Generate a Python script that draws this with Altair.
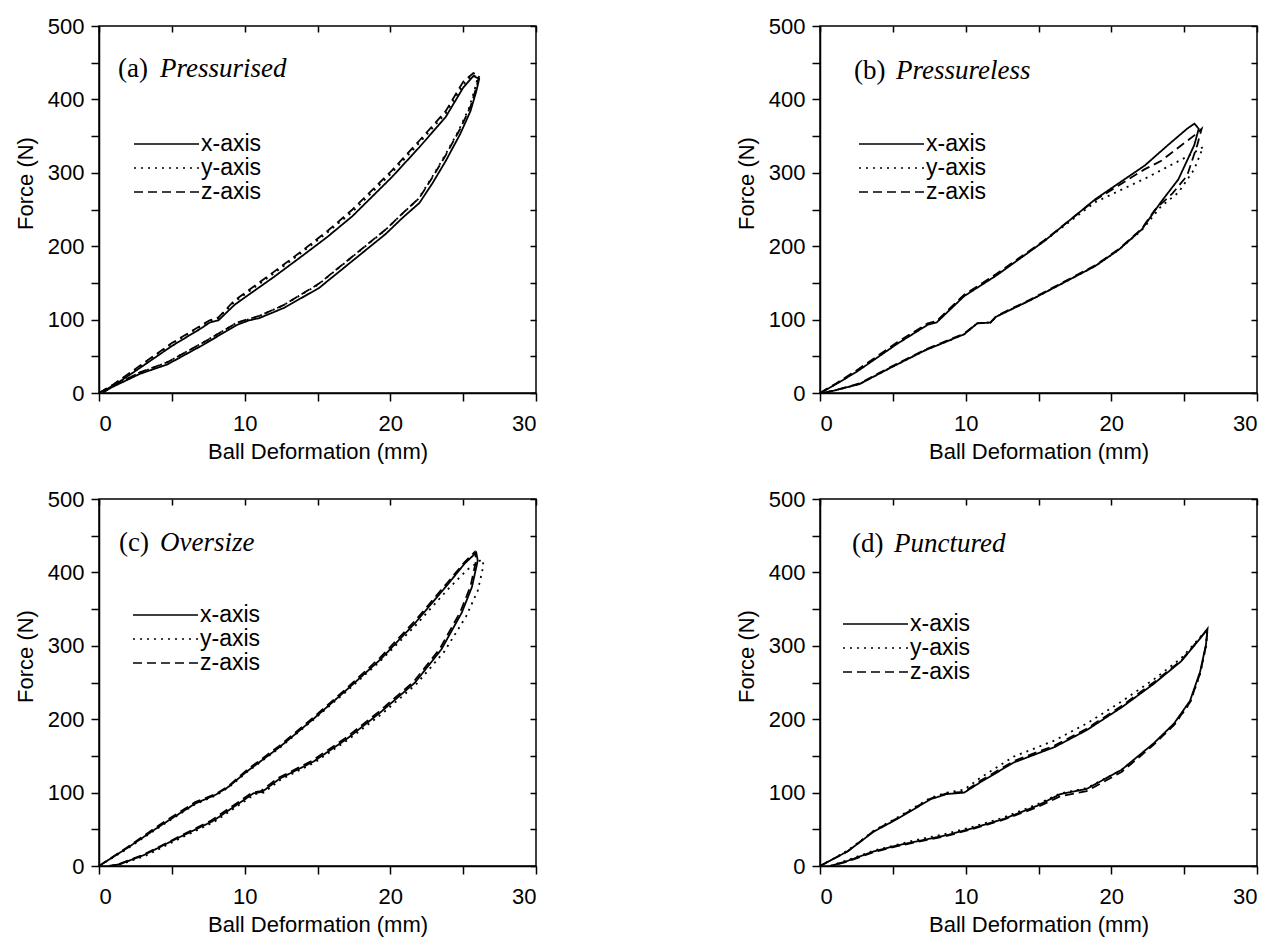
import altair as alt
import pandas as pd

# ---------------- data ----------------
PANELS = ["a", "b", "c", "d"]
PANEL_TAGS = ["(a)", "(b)", "(c)", "(d)"]
PANEL_NAMES = ["Pressurised", "Pressureless", "Oversize", "Punctured"]
SERIES = ["x-axis", "y-axis", "z-axis"]

X_TICKS = [0, 5, 10, 15, 20, 25, 30]
Y_TICKS = [0, 50, 100, 150, 200, 250, 300, 350, 400, 450, 500]

# (a) Pressurised
A_X_DEF = [0, 1, 2.8, 5, 7, 7.6, 8.2, 9.3, 10, 12, 13.9, 15.7, 17.4, 20.1, 22, 23.8, 25, 25.7, 26.1, 25.9, 25.5, 24.8, 23.8, 22.9, 22, 20.8, 19.7, 17.4, 15.1, 12.7, 11, 10.3, 9.5, 7, 4.7, 2.8, 0.8, 0.3]
A_X_F = [0, 10, 34, 64, 88, 96, 99, 120, 130, 158, 186, 213, 241, 294, 335, 376, 416, 432, 428, 411, 384, 353, 316, 286, 259, 238, 217, 180, 143, 116, 102, 99, 93, 64, 39, 26, 7, 1]
A_Y_DEF = [0, 1, 2.8, 5, 7, 7.6, 8.2, 9.3, 10, 12, 13.9, 15.7, 17.4, 20.1, 22, 23.8, 25, 25.6, 26.0, 25.8, 25.4, 24.7, 23.7, 22.8, 21.9, 20.7, 19.6, 17.3, 15.0, 12.6, 10.9, 10.2, 9.4, 6.9, 4.6, 2.7, 0.8, 0.3]
A_Y_F = [0, 11, 36, 67, 91, 98, 102, 124, 134, 163, 191, 219, 247, 300, 341, 381, 420, 433, 430, 414, 388, 358, 322, 292, 264, 242, 221, 184, 147, 119, 104, 100, 95, 66, 41, 27, 8, 1]
A_Z_DEF = [0, 1, 2.8, 5, 7, 7.6, 8.2, 9.3, 10, 12, 13.9, 15.7, 17.4, 20.1, 22, 23.8, 25, 25.7, 26.1, 25.9, 25.5, 24.8, 23.8, 22.9, 22, 20.8, 19.7, 17.4, 15.1, 12.7, 11, 10.3, 9.5, 7, 4.7, 2.8, 0.8, 0.3]
A_Z_F = [0, 12, 37, 68, 92, 99, 103, 126, 136, 165, 193, 221, 250, 303, 344, 384, 424, 436, 432, 416, 390, 360, 324, 294, 266, 244, 223, 186, 149, 120, 105, 101, 96, 67, 42, 28, 8, 1]

# (b) Pressureless
B_X_DEF = [0, 1.1, 2.6, 5.3, 7.4, 8.0, 9.9, 12.1, 15.4, 18.9, 22.3, 23.9, 25.2, 25.7, 26.0, 25.7, 24.6, 23.4, 22.1, 20.5, 18.9, 16.7, 14.4, 12.1, 11.7, 10.8, 9.9, 7.2, 4.9, 2.7, 1.1, 0.2]
B_X_F = [0, 12, 30, 67, 93, 96, 132, 160, 207, 264, 310, 338, 360, 367, 360, 338, 291, 260, 223, 195, 173, 150, 126, 104, 96, 95, 80, 58, 35, 12, 4, 0]
B_Y_DEF = [0, 1.1, 2.6, 5.3, 7.4, 8.0, 9.9, 12.1, 15.4, 18.9, 22.5, 25.2, 26.3, 25.7, 24.6, 23.4, 22.1, 20.5, 18.9, 16.7, 14.4, 12.1, 11.7, 10.8, 9.9, 7.2, 4.9, 2.7, 1.1, 0.2]
B_Y_F = [0, 12, 31, 68, 94, 97, 133, 161, 207, 260, 294, 322, 335, 305, 273, 254, 222, 195, 173, 150, 126, 104, 96, 95, 80, 58, 35, 12, 4, 0]
B_Z_DEF = [0, 1.1, 2.6, 5.3, 7.4, 8.0, 9.9, 12.1, 15.4, 18.9, 22.3, 23.4, 25.7, 26.2, 25.9, 25.2, 24.2, 23.0, 22.1, 20.5, 18.9, 16.7, 14.4, 12.1, 11.7, 10.8, 9.9, 7.2, 4.9, 2.7, 1.1, 0.2]
B_Z_F = [0, 13, 32, 69, 95, 98, 134, 162, 208, 263, 305, 316, 351, 360, 338, 296, 272, 250, 224, 196, 174, 151, 127, 105, 96, 95, 81, 59, 36, 13, 4, 0]

# (c) Oversize
C_X_DEF = [0, 1.9, 4.3, 6.6, 8.0, 8.9, 10.1, 12.4, 14.7, 17.0, 19.3, 21.7, 24.0, 25.1, 25.9, 26.0, 25.6, 24.9, 23.5, 21.7, 19.3, 17.0, 14.7, 12.4, 11.2, 10.6, 10.1, 7.8, 5.4, 3.1, 1.5, 0.8]
C_X_F = [0, 24, 56, 85, 97, 108, 128, 162, 200, 240, 281, 331, 385, 412, 427, 416, 380, 345, 295, 250, 209, 173, 142, 119, 101, 99, 92, 61, 38, 15, 3, 0]
C_Y_DEF = [0, 1.9, 4.3, 6.6, 8.0, 8.9, 10.1, 12.4, 14.7, 17.0, 19.3, 21.7, 24.0, 25.3, 26.3, 26.4, 26.0, 25.2, 23.7, 21.8, 19.4, 17.1, 14.8, 12.5, 11.3, 10.7, 10.2, 7.9, 5.5, 3.2, 1.6, 0.9]
C_Y_F = [0, 23, 55, 84, 96, 107, 127, 161, 199, 238, 279, 327, 378, 404, 418, 410, 375, 340, 292, 248, 207, 172, 141, 118, 100, 98, 91, 60, 37, 14, 3, 0]
C_Z_DEF = [0, 1.9, 4.3, 6.6, 8.0, 8.9, 10.1, 12.4, 14.7, 17.0, 19.3, 21.7, 24.0, 25.1, 25.8, 25.9, 25.5, 24.8, 23.4, 21.6, 19.2, 16.9, 14.6, 12.3, 11.1, 10.5, 10.0, 7.7, 5.3, 3.0, 1.4, 0.7]
C_Z_F = [0, 25, 58, 87, 98, 109, 130, 164, 202, 242, 284, 334, 388, 414, 428, 417, 381, 346, 296, 251, 210, 174, 143, 120, 102, 100, 93, 62, 38, 15, 3, 0]

# (d) Punctured
D_X_DEF = [0, 1.9, 3.7, 5.3, 7.6, 8.7, 9.9, 11.0, 13.3, 16.1, 18.3, 20.7, 22.9, 24.8, 26.1, 26.6, 26.5, 26.1, 25.4, 24.3, 22.9, 20.7, 18.3, 16.5, 14.9, 12.6, 10.4, 8.7, 6.5, 5.3, 3.7, 1.9, 0.7]
D_X_F = [0, 20, 47, 64, 91, 98, 100, 114, 141, 162, 185, 216, 248, 279, 310, 323, 302, 265, 225, 194, 167, 131, 105, 98, 82, 64, 51, 42, 33, 28, 20, 7, 0]
D_Y_DEF = [0, 1.9, 3.7, 5.3, 7.6, 8.7, 9.9, 11.0, 13.3, 16.1, 18.3, 20.7, 22.9, 24.8, 26.1, 26.6, 26.5, 26.1, 25.4, 24.3, 22.9, 20.7, 18.3, 16.5, 14.9, 12.6, 10.4, 8.7, 6.5, 5.3, 3.7, 1.9, 0.7]
D_Y_F = [0, 21, 48, 66, 93, 100, 104, 120, 149, 171, 194, 224, 254, 283, 312, 323, 300, 262, 222, 192, 166, 131, 106, 99, 84, 66, 53, 44, 35, 29, 21, 8, 0]
D_Z_DEF = [0, 1.9, 3.7, 5.3, 7.6, 8.7, 9.9, 11.0, 13.3, 16.1, 18.3, 20.7, 22.9, 24.8, 26.1, 26.6, 26.5, 26.1, 25.4, 24.3, 22.9, 20.7, 18.3, 16.5, 14.9, 12.6, 10.4, 8.7, 6.5, 5.3, 3.7, 1.9, 0.7]
D_Z_F = [0, 20, 48, 65, 92, 99, 101, 116, 143, 164, 187, 218, 250, 280, 311, 322, 300, 263, 223, 192, 165, 128, 102, 95, 80, 63, 50, 41, 32, 27, 19, 6, 0]

CURVES = {
    "a": [(A_X_DEF, A_X_F), (A_Y_DEF, A_Y_F), (A_Z_DEF, A_Z_F)],
    "b": [(B_X_DEF, B_X_F), (B_Y_DEF, B_Y_F), (B_Z_DEF, B_Z_F)],
    "c": [(C_X_DEF, C_X_F), (C_Y_DEF, C_Y_F), (C_Z_DEF, C_Z_F)],
    "d": [(D_X_DEF, D_X_F), (D_Y_DEF, D_Y_F), (D_Z_DEF, D_Z_F)],
}

rows = []
for p in PANELS:
    for s, (defs, forces) in zip(SERIES, CURVES[p]):
        for i, (xv, fv) in enumerate(zip(defs, forces)):
            rows.append({"panel": p, "series": s, "idx": i, "deformation": xv, "force": fv})
df = pd.DataFrame(rows)

# ---------------- layout / style ----------------
W, H = 437, 367
FONT = "Liberation Sans"
SERIF = "Liberation Serif"
TICK_FS = 22
TITLE_FS = 22
LEG_FS = 23
LAB_FS = 27

# legend & label offsets (pixels from plot top-left) per panel
LEG_POS = {"a": (34, 106), "b": (38, 106), "c": (33, 104), "d": (22, 113)}
LAB_POS = {"a": (19, 61, 43), "b": (34, 76, 45), "c": (20, 61, 44), "d": (32, 74, 45)}

xscale = alt.Scale(domain=[0, 30], nice=False, zero=False)
yscale = alt.Scale(domain=[0, 500], nice=False)
dash_scale = alt.Scale(domain=SERIES, range=[[1, 0], [2, 5], [9, 5]])

bottom_axis = alt.Axis(values=X_TICKS, labelExpr="datum.value % 10 == 0 ? datum.label : ''",
                       tickSize=8, labelPadding=12, titlePadding=7, grid=False)
left_axis = alt.Axis(values=Y_TICKS, labelExpr="datum.value % 100 == 0 ? datum.label : ''",
                     tickSize=8, labelPadding=7, titlePadding=10, titleY=157, grid=False)
top_axis = alt.Axis(orient="top", values=X_TICKS, labels=False, domain=False, tickSize=6,
                    offset=-6, title=None, grid=False)
right_axis = alt.Axis(orient="right", values=Y_TICKS, labels=False, domain=False, tickSize=6,
                      offset=-6, title=None, grid=False)


def panel(i):
    key = PANELS[i]
    d = df[df.panel == key]
    lx, ly = LEG_POS[key]
    tx, ix, ty = LAB_POS[key]
    lines = alt.Chart(d).mark_line(color="black", strokeWidth=1.8).encode(
        x=alt.X("deformation:Q", scale=xscale, axis=bottom_axis, title="Ball Deformation (mm)"),
        y=alt.Y("force:Q", scale=yscale, axis=left_axis, title="Force (N)"),
        strokeDash=alt.StrokeDash(
            "series:N", scale=dash_scale,
            legend=alt.Legend(orient="none", legendX=lx, legendY=ly, title=None,
                              symbolType="stroke", symbolSize=4225, symbolStrokeWidth=1.6,
                              symbolStrokeColor="black", labelFont=FONT, labelFontSize=LEG_FS,
                              labelColor="black", labelOffset=1, clipHeight=24,
                              rowPadding=0, padding=0, symbolOffset=0)),
        order="idx:Q",
    )
    frame = alt.Chart(d).mark_point(opacity=0).encode(
        x=alt.X("deformation:Q", scale=xscale, axis=top_axis),
        y=alt.Y("force:Q", scale=yscale, axis=right_axis),
    )
    tag = alt.Chart(pd.DataFrame({"t": [PANEL_TAGS[i]]})).mark_text(
        font=SERIF, fontSize=LAB_FS, align="left", baseline="middle", color="black"
    ).encode(x=alt.value(tx), y=alt.value(ty), text="t:N")
    name = alt.Chart(pd.DataFrame({"t": [PANEL_NAMES[i]]})).mark_text(
        font=SERIF, fontSize=LAB_FS, fontStyle="italic", align="left", baseline="middle", color="black"
    ).encode(x=alt.value(ix), y=alt.value(ty), text="t:N")
    return alt.layer(lines, frame, tag, name).resolve_axis(x="independent", y="independent").properties(
        width=W, height=H)


row1 = alt.hconcat(panel(0), panel(1), spacing=196).resolve_scale(strokeDash="independent").resolve_legend(strokeDash="independent")
row2 = alt.hconcat(panel(2), panel(3), spacing=196).resolve_scale(strokeDash="independent").resolve_legend(strokeDash="independent")

chart = alt.vconcat(row1, row2, spacing=24).resolve_scale(strokeDash="independent").resolve_legend(
    strokeDash="independent"
).properties(
    padding={"left": 13, "top": 14, "right": 5, "bottom": 2},
    background="white",
).configure_view(
    stroke="black", strokeWidth=1.5
).configure_axis(
    labelFont=FONT, labelFontSize=TICK_FS, labelColor="black", titleFont=FONT, titleFontSize=TITLE_FS,
    titleFontWeight="normal", titleColor="black", domainColor="black", domainWidth=1.5,
    tickColor="black", tickWidth=1.5,
)

chart.save("out.html", embed_options={"renderer": "svg", "actions": False})
